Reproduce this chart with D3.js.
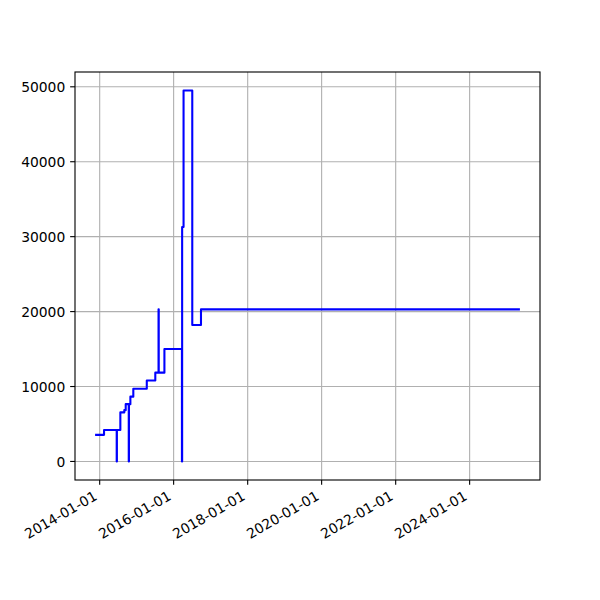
<!DOCTYPE html>
<html>
<head>
<meta charset="utf-8">
<script src="https://cdn.jsdelivr.net/npm/d3@7"></script>
<style>
  html, body { margin: 0; padding: 0; background: #fff; }
  svg { display: block; }
  text { font-family: "DejaVu Sans", sans-serif; font-size: 13.89px; fill: #000; }
</style>
</head>
<body>
<svg id="chart" width="600" height="600"></svg>
<script>
// ---- data ----
const dates = ["2013-11-27","2014-02-13","2014-06-18","2014-06-20","2014-07-24","2014-09-01","2014-09-15","2014-10-15","2014-10-17","2014-10-31","2014-11-29","2015-04-11","2015-07-04","2015-08-05","2015-08-07","2015-10-02","2016-03-23","2016-03-25","2016-04-08","2016-07-03","2016-09-27","2025-05-01"];
const values = [3550,4200,0,4200,6550,6850,7650,0,7650,8650,9700,10800,11850,20300,11850,15000,0,31300,49500,18200,20300,20300];
const xTickLabels = ["2014-01-01","2016-01-01","2018-01-01","2020-01-01","2022-01-01","2024-01-01"];
const yTickValues = [0,10000,20000,30000,40000,50000];

// ---- layout ----
const L = 75, R = 540, T = 72, B = 480;
const parse = d3.utcParse("%Y-%m-%d");
const fmt = d3.utcFormat("%Y-%m-%d");
const pts = dates.map((d,i) => ({date: parse(d), value: values[i]}));

const xMin = d3.min(pts, d => +d.date), xMax = d3.max(pts, d => +d.date);
const xPad = (xMax - xMin) * 0.05;
const yMin = Math.min(0, d3.min(values)), yMax = d3.max(values);
const yPad = (yMax - yMin) * 0.05;

const x = d3.scaleUtc().domain([new Date(xMin - xPad), new Date(xMax + xPad)]).range([L, R]);
const y = d3.scaleLinear().domain([yMin - yPad, yMax + yPad]).range([B, T]);

const svg = d3.select("#chart");
const pt = 100 / 72;
const tickLen = 3.5 * pt, pad = 3.5 * pt;
const xTicks = xTickLabels.map(parse);

// grid
const grid = svg.append("g").attr("stroke", "#b0b0b0").attr("stroke-width", 0.8 * pt);
grid.selectAll("line.gx").data(xTicks).enter().append("line")
  .attr("x1", d => x(d)).attr("x2", d => x(d)).attr("y1", T).attr("y2", B);
grid.selectAll("line.gy").data(yTickValues).enter().append("line")
  .attr("x1", L).attr("x2", R).attr("y1", d => y(d)).attr("y2", d => y(d));

// line
const line = d3.line().x(d => x(d.date)).y(d => y(d.value)).curve(d3.curveStepAfter);
svg.append("path").datum(pts)
  .attr("d", line)
  .attr("fill", "none")
  .attr("stroke", "#0000ff")
  .attr("stroke-width", 1.5 * pt)
  .attr("stroke-linejoin", "round")
  .attr("stroke-linecap", "square");

// spines
svg.append("rect").attr("x", L).attr("y", T).attr("width", R - L).attr("height", B - T)
  .attr("fill", "none").attr("stroke", "#000").attr("stroke-width", 0.8 * pt);

// x axis ticks + labels
const xa = svg.append("g");
xa.selectAll("line").data(xTicks).enter().append("line")
  .attr("x1", d => x(d)).attr("x2", d => x(d)).attr("y1", B).attr("y2", B + tickLen)
  .attr("stroke", "#000").attr("stroke-width", 0.8 * pt);
const asc = 0.76 * 13.89, desc = 0.23 * 13.89;
xa.selectAll("text").data(xTicks).enter().append("text")
  .attr("text-anchor", "end")
  .attr("transform", d => `translate(${x(d) - 0.5 * desc},${B + tickLen + pad + 0.866 * asc}) rotate(-30)`)
  .text(d => fmt(d));

// y axis ticks + labels
const ya = svg.append("g");
ya.selectAll("line").data(yTickValues).enter().append("line")
  .attr("x1", L - tickLen).attr("x2", L).attr("y1", d => y(d)).attr("y2", d => y(d))
  .attr("stroke", "#000").attr("stroke-width", 0.8 * pt);
ya.selectAll("text").data(yTickValues).enter().append("text")
  .attr("text-anchor", "end")
  .attr("x", L - tickLen - pad)
  .attr("y", d => y(d))
  .attr("dy", "0.37em")
  .text(d => String(d));
</script>
</body>
</html>
